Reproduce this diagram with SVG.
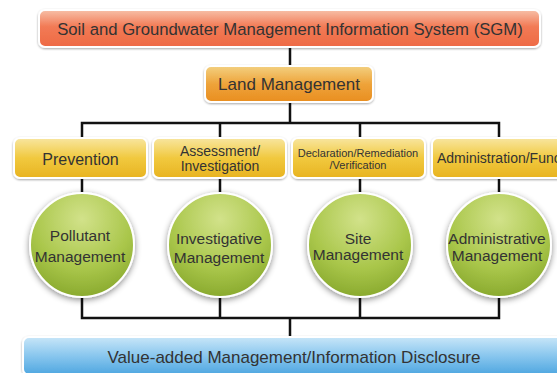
<svg xmlns="http://www.w3.org/2000/svg" width="557" height="373" viewBox="0 0 557 373">
<style>
text{font-family:"Liberation Sans",Arial,sans-serif;fill:#333;text-anchor:middle}
.conn{fill:none;stroke:#111;stroke-width:2.5}
.box{stroke:#fff;stroke-width:2;filter:url(#sh)}
.circ{stroke:#fff;stroke-width:2;filter:url(#csh)}
.ct{font-size:15.5px}
</style>
<defs>
<linearGradient id="gRed" x1="0" y1="0" x2="0" y2="1">
<stop offset="0" stop-color="#f7c0a8"/><stop offset="0.45" stop-color="#f27a55"/><stop offset="1" stop-color="#ee6a45"/>
</linearGradient>
<linearGradient id="gOr" x1="0" y1="0" x2="0" y2="1">
<stop offset="0" stop-color="#f3d080"/><stop offset="0.5" stop-color="#eea33a"/><stop offset="1" stop-color="#e98e20"/>
</linearGradient>
<linearGradient id="gY" x1="0" y1="0" x2="0" y2="1">
<stop offset="0" stop-color="#f8e6a0"/><stop offset="0.5" stop-color="#f1c93f"/><stop offset="1" stop-color="#e8b320"/>
</linearGradient>
<linearGradient id="gB" x1="0" y1="0" x2="0" y2="1">
<stop offset="0" stop-color="#c8e6f8"/><stop offset="0.5" stop-color="#88c6ee"/><stop offset="1" stop-color="#4ea6e0"/>
</linearGradient>
<radialGradient id="gG" cx="0.5" cy="0.25" r="0.8">
<stop offset="0" stop-color="#d2e28a"/><stop offset="0.6" stop-color="#a9c64a"/><stop offset="1" stop-color="#84a52a"/>
</radialGradient>
<filter id="sh" x="-10%" y="-30%" width="120%" height="160%">
<feDropShadow dx="0" dy="1" stdDeviation="1.2" flood-color="#000" flood-opacity="0.35"/>
</filter>
<filter id="csh" x="-30%" y="-30%" width="160%" height="160%">
<feDropShadow dx="0" dy="2" stdDeviation="3" flood-color="#000" flood-opacity="0.45"/>
</filter>
</defs>

<g id="connectors">
<path class="conn" d="M290 47V66M290 102V123M82 138V123H499V138M220 123V138M360 123V138"/>
<path class="conn" d="M82 178V193M220 178V193M360 178V193M499 178V193"/>
<path class="conn" d="M82 297V318H499V297M220 297V318M360 297V318M290 318V338"/>
</g>

<g id="sgm">
<rect class="box" x="39" y="10" width="501" height="37" rx="6" fill="url(#gRed)"/>
<text x="290" y="34.5" font-size="16.7">Soil and Groundwater Management Information System (SGM)</text>
</g>
<g id="land">
<rect class="box" x="205" y="66" width="168" height="36" rx="6" fill="url(#gOr)"/>
<text x="289" y="90" font-size="17">Land Management</text>
</g>

<g id="prevention">
<rect class="box" x="14" y="138" width="133" height="40" rx="6" fill="url(#gY)"/>
<text x="80.5" y="164.5" font-size="16">Prevention</text>
</g>
<g id="assessment">
<rect class="box" x="153" y="138" width="133" height="40" rx="6" fill="url(#gY)"/>
<text x="220" y="155.5" font-size="14">Assessment/</text>
<text x="220" y="170.5" font-size="14">Investigation</text>
</g>
<g id="declaration">
<rect class="box" x="292" y="138" width="133" height="40" rx="6" fill="url(#gY)"/>
<text x="358" y="156.5" font-size="11">Declaration/Remediation</text>
<text x="358" y="169" font-size="11">/Verification</text>
</g>
<g id="administration">
<rect class="box" x="432" y="138" width="140" height="40" rx="6" fill="url(#gY)"/>
<text x="437" y="163" font-size="14" style="text-anchor:start">Administration/Function</text>
</g>

<g id="pollutant">
<circle class="circ" cx="82" cy="245" r="52" fill="url(#gG)"/>
<text class="ct" x="80" y="241">Pollutant</text>
<text class="ct" x="80" y="262">Management</text>
</g>
<g id="investigative">
<circle class="circ" cx="220" cy="245" r="52" fill="url(#gG)"/>
<text class="ct" x="219" y="243.5">Investigative</text>
<text class="ct" x="219" y="262.5">Management</text>
</g>
<g id="site">
<circle class="circ" cx="360" cy="245" r="52" fill="url(#gG)"/>
<text class="ct" x="358" y="243.5">Site</text>
<text class="ct" x="358" y="259.5">Management</text>
</g>
<g id="administrative">
<circle class="circ" cx="499" cy="245" r="52" fill="url(#gG)"/>
<text class="ct" x="497" y="243.5">Administrative</text>
<text class="ct" x="497" y="260.5">Management</text>
</g>

<g id="valueadded">
<rect class="box" x="23" y="337" width="550" height="38" rx="6" fill="url(#gB)"/>
<text x="294" y="363" font-size="17">Value-added Management/Information Disclosure</text>
</g>
</svg>
